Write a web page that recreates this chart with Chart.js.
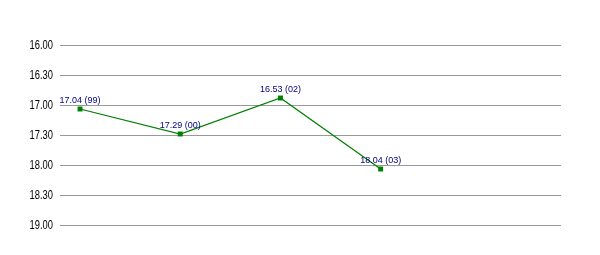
<!DOCTYPE html>
<html>
<head>
<meta charset="utf-8">
<script src="https://cdn.jsdelivr.net/npm/chart.js@4"></script>
<style>
  html, body { margin: 0; padding: 0; background: #fff; }
  #wrap { width: 600px; height: 255px; }
</style>
</head>
<body>
<div id="wrap"><canvas id="myChart" width="600" height="255"></canvas></div>
<script>
// seasons and times (min.sec)
const seasons = ['99', '00', '02', '03'];
const times = ['17.04', '17.29', '16.53', '18.04'];
const yTicks = ['16.00', '16.30', '17.00', '17.30', '18.00', '18.30', '19.00'];

function toSec(t) {
    const parts = t.split('.');
    return parseInt(parts[0]) * 60 + parseInt(parts[1]);
}

const points = times.map((t, i) => ({ x: i, y: toSec(t) }));
const tickSecs = yTicks.map(toSec);

// labels above each point + narrow y tick labels
const pointLabels = {
    id: 'pointLabels',
    afterDraw(chart) {
        const ctx = chart.ctx;
        const yScale = chart.scales.y;
        ctx.save();
        ctx.font = '13px Arial, "Liberation Sans", sans-serif';
        ctx.fillStyle = '#000000';
        ctx.textAlign = 'right';
        ctx.textBaseline = 'middle';
        yTicks.forEach((lbl, i) => {
            const py = yScale.getPixelForValue(tickSecs[i]);
            ctx.save();
            ctx.translate(yScale.right - 7, py);
            ctx.scale(0.72, 1);
            ctx.fillText(lbl, 0, 0);
            ctx.restore();
        });

        const meta = chart.getDatasetMeta(0);
        ctx.font = '9px "Liberation Sans", Arial, sans-serif';
        ctx.fillStyle = '#000080';
        ctx.textAlign = 'center';
        ctx.textBaseline = 'alphabetic';
        meta.data.forEach((pt, i) => {
            ctx.fillText(times[i] + ' (' + seasons[i] + ')', pt.x, pt.y - 6);
        });
        ctx.restore();
    }
};

const ctx = document.getElementById('myChart').getContext('2d');
new Chart(ctx, {
    type: 'line',
    data: {
        datasets: [{
            data: points,
            borderColor: '#008000',
            backgroundColor: '#008000',
            borderWidth: 1.2,
            pointStyle: 'rect',
            pointRadius: 3.5,
            pointBorderWidth: 0,
            tension: 0
        }]
    },
    options: {
        responsive: false,
        animation: false,
        layout: { padding: { top: 45, bottom: 30, right: 39, left: 0 } },
        plugins: { legend: { display: false }, tooltip: { enabled: false } },
        scales: {
            x: {
                type: 'linear',
                display: false,
                min: -0.2,
                max: 4.8
            },
            y: {
                reverse: true,
                min: tickSecs[0],
                max: tickSecs[tickSecs.length - 1],
                afterFit: function(scale) { scale.width = 60; },
                afterBuildTicks: function(scale) {
                    scale.ticks = tickSecs.map(v => ({ value: v }));
                },
                border: { display: false },
                grid: { color: '#999999', lineWidth: 1, drawTicks: false },
                ticks: { display: false }
            }
        }
    },
    plugins: [pointLabels]
});
</script>
</body>
</html>
